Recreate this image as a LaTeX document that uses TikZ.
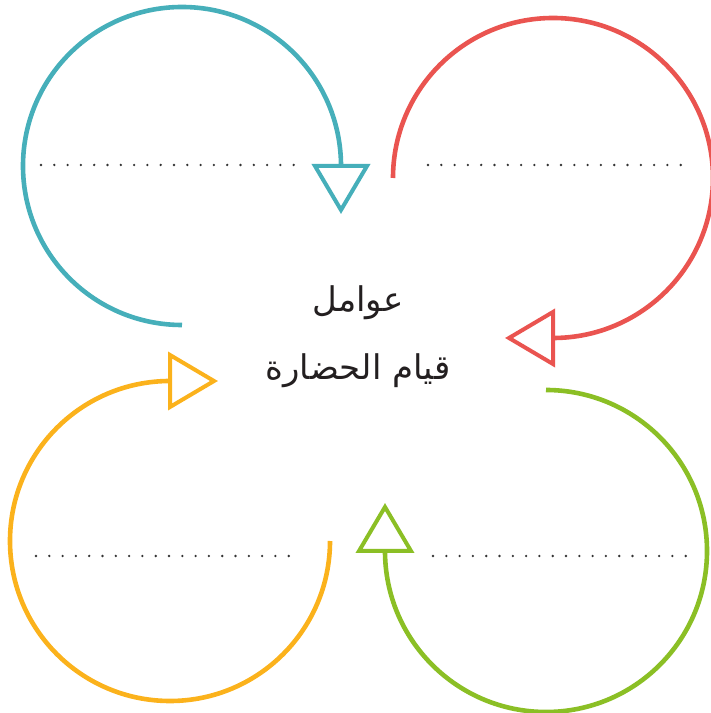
\documentclass[tikz,border=0pt]{standalone}
\usepackage{fontspec}
\usetikzlibrary{calc}
\newfontfamily\arabicfont[Script=Arabic]{DejaVu Sans}
\TeXXeTstate=1
\definecolor{cblue}{HTML}{46AFBA}
\definecolor{cred}{HTML}{EA5450}
\definecolor{corange}{HTML}{FBB21C}
\definecolor{cgreen}{HTML}{8BBF25}
\definecolor{cdot}{HTML}{333333}
\definecolor{ctext}{HTML}{231F20}
\begin{document}
\begin{tikzpicture}[x=1pt,y=1pt,
  ring/.style={line width=4.6pt},
  tri/.style={line width=4pt, fill=white, line join=miter},
  dotc/.style={fill=cdot},
  txt/.style={text=ctext, font=\arabicfont\fontsize{34}{40}\selectfont, inner sep=0pt}]
\useasboundingbox (0,0) rectangle (711,713);
% blue
\draw[ring, draw=cblue] (182,388) arc[start angle=-90, end angle=-360, radius=159] coordinate (bE);
\draw[tri, draw=cblue] ($(bE)+(-26,0)$) -- ++(52,0) -- ++(-26,-44) -- cycle;
% red
\draw[ring, draw=cred] (393,535) arc[start angle=180, end angle=-90, radius=160] coordinate (rE);
\draw[tri, draw=cred] ($(rE)+(0,26)$) -- ++(0,-52) -- ++(-44,26) -- cycle;
% orange
\draw[ring, draw=corange] (330,172) arc[start angle=0, end angle=-270, radius=160] coordinate (oE);
\draw[tri, draw=corange] ($(oE)+(0,26)$) -- ++(0,-52) -- ++(44,26) -- cycle;
% green
\draw[ring, draw=cgreen] (546,323) arc[start angle=90, end angle=-180, radius=161] coordinate (gE);
\draw[tri, draw=cgreen] ($(gE)+(-26,0)$) -- ++(52,0) -- ++(-26,44) -- cycle;
% dotted lines
\foreach \i in {0,...,19} {
  \fill[dotc] ({41+13.3*\i},548) circle (1.3);
  \fill[dotc] ({428+13.3*\i},548) circle (1.3);
  \fill[dotc] ({36+13.3*\i},157) circle (1.3);
  \fill[dotc] ({433+13.3*\i},157) circle (1.3);
}
% text
\node[txt] (t1) at (358,410) {\beginR عوامل\endR};
\node[txt] (t2) at (358,342) {\beginR قيام الحضارة\endR};
\end{tikzpicture}
\end{document}
